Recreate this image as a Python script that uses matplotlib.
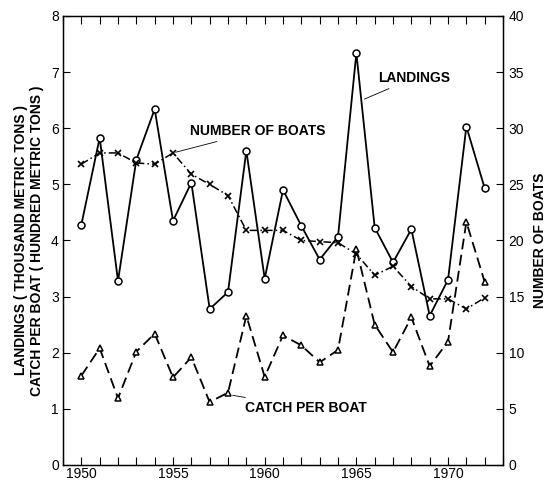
import matplotlib
matplotlib.use("Agg")
import matplotlib.pyplot as plt
from matplotlib.ticker import MultipleLocator

plt.rcParams['font.family'] = ['Liberation Sans', 'DejaVu Sans']

years = list(range(1950, 1973))
landings = [4.28, 5.83, 3.28, 5.44, 6.34, 4.35, 5.03, 2.78, 3.08, 5.60, 3.32, 4.90,
            4.26, 3.66, 4.07, 7.34, 4.23, 3.61, 4.20, 2.66, 3.30, 6.03, 4.93]
boats = [26.8, 27.8, 27.8, 26.9, 26.8, 27.8, 25.9, 25.0, 24.0, 20.9, 20.9, 20.9,
         20.0, 19.9, 19.8, 18.8, 16.9, 17.7, 15.9, 14.8, 14.8, 13.9, 14.9]
catch = [1.59, 2.08, 1.19, 2.02, 2.34, 1.56, 1.92, 1.12, 1.29, 2.66, 1.57, 2.31,
         2.13, 1.83, 2.05, 3.85, 2.50, 2.01, 2.63, 1.76, 2.20, 4.33, 3.26]

left_label = "LANDINGS ( THOUSAND METRIC TONS )\nCATCH PER BOAT ( HUNDRED METRIC TONS )"
right_label = "NUMBER OF BOATS"

fig = plt.figure(figsize=(5.45, 4.83), dpi=100)
ax = fig.add_axes([0.1156, 0.0373, 0.8074, 0.9296])
ax2 = ax.twinx()

lw = 1.3
ax.plot(years, landings, color='black', lw=lw, ls='-', marker='o', ms=5,
        mfc='white', mec='black', mew=1.1, zorder=3)
ax.plot(years, catch, color='black', lw=lw, ls=(0, (6, 3)), marker='^', ms=5,
        mfc='white', mec='black', mew=1.1, zorder=3)
ax2.plot(years, boats, color='black', lw=1.1, ls=(0, (5, 2, 1, 2)), marker='x', ms=5,
         mec='black', mew=1.2, zorder=3)

ax.set_xlim(1949, 1973)
ax.set_ylim(0, 8)
ax2.set_ylim(0, 40)

ax.xaxis.set_minor_locator(MultipleLocator(1))
ax.set_xticks([1950, 1955, 1960, 1965, 1970])
ax.yaxis.set_major_locator(MultipleLocator(1))
ax2.yaxis.set_major_locator(MultipleLocator(5))

ax.tick_params(axis='x', which='both', direction='in', top=True, length=6, width=0.8,
               labelsize=10, pad=1.5)
ax.tick_params(axis='y', which='both', direction='in', length=5, width=0.8, labelsize=10, pad=3)
ax2.tick_params(axis='y', direction='in', length=5, width=0.8, labelsize=10, pad=4)

for s in ax.spines.values():
    s.set_linewidth(1.0)

ax.set_ylabel(left_label, fontsize=10, fontweight='bold', labelpad=5, linespacing=1.15)
ax2.set_ylabel(right_label, fontsize=10, fontweight='bold', labelpad=6)

ax.annotate("NUMBER OF BOATS", xy=(1955, boats[5] / 5), xytext=(1955.9, 5.95),
            fontsize=10, fontweight='bold', ha='left', va='center',
            arrowprops=dict(arrowstyle='-', color='black', lw=0.6))
ax.annotate("LANDINGS", xy=(1965.3, 6.5), xytext=(1966.2, 6.9),
            fontsize=10, fontweight='bold', ha='left', va='center',
            arrowprops=dict(arrowstyle='-', color='black', lw=0.6))
ax.annotate("CATCH PER BOAT", xy=(1958.1, 1.25), xytext=(1958.9, 1.02),
            fontsize=10, fontweight='bold', ha='left', va='center',
            arrowprops=dict(arrowstyle='-', color='black', lw=0.6))

fig.savefig("out.png", dpi=100)
